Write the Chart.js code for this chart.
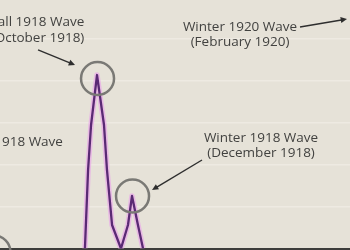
<!DOCTYPE html>
<html>
<head>
<meta charset="utf-8">
<script src="https://cdn.jsdelivr.net/npm/chart.js@4.4.0/dist/chart.umd.min.js"></script>
<style>
  html, body { margin: 0; padding: 0; background: #e6e2d8; }
  #wrap { width: 350px; height: 250px; position: relative; }
</style>
</head>
<body>
<div id="wrap"><canvas id="waves"></canvas></div>
<script>
// Data (months since Jan 1918, deaths per 1,000)
const waveMonths = [8.31, 8.49, 8.66, 9.0, 9.4, 9.57, 9.86, 10.37, 10.77, 11.0, 11.34, 11.63];
const waveValues = [0, 9.35, 14.7, 20.65, 14.7, 9.35, 2.8, 0, 2.8, 6.25, 2.8, 0];

// circled peaks: spring 1918, fall 1918, winter 1918
const peakMonths = [3.11, 9.03, 11.03];
const peakValues = [-0.42, 20.24, 6.25];

const springLabel = ['Spring 1918 Wave'];
const fallLabel = ['Fall 1918 Wave', '(October 1918)'];
const winter18Label = ['Winter 1918 Wave', '(December 1918)'];
const winter20Label = ['Winter 1920 Wave', '(February 1920)'];

const toXY = (xs, ys) => xs.map((x, i) => ({ x: x, y: ys[i] }));

const FONT = '13.5px "Open Sans", sans-serif';
const TEXT_COLOR = '#424240';
const ARROW_COLOR = '#2e2e2e';

function drawArrow(ctx, x1, y1, x2, y2) {
    const ang = Math.atan2(y2 - y1, x2 - x1);
    const head = 7;
    ctx.save();
    ctx.strokeStyle = ARROW_COLOR;
    ctx.fillStyle = ARROW_COLOR;
    ctx.lineWidth = 1.4;
    ctx.beginPath();
    ctx.moveTo(x1, y1);
    ctx.lineTo(x2 - Math.cos(ang) * head * 0.8, y2 - Math.sin(ang) * head * 0.8);
    ctx.stroke();
    ctx.beginPath();
    ctx.moveTo(x2, y2);
    ctx.lineTo(x2 - head * Math.cos(ang - 0.45), y2 - head * Math.sin(ang - 0.45));
    ctx.lineTo(x2 - head * Math.cos(ang + 0.45), y2 - head * Math.sin(ang + 0.45));
    ctx.closePath();
    ctx.fill();
    ctx.restore();
}

function drawLines(ctx, lines, cx, cy, align) {
    ctx.save();
    ctx.font = FONT;
    ctx.fillStyle = TEXT_COLOR;
    ctx.textAlign = align;
    ctx.textBaseline = 'middle';
    lines.forEach((t, i) => ctx.fillText(t, cx, cy + i * 15.5));
    ctx.restore();
}

// Callouts are placed relative to the circled peaks
const calloutPlugin = {
    id: 'callouts',
    afterDatasetsDraw(chart) {
        const ctx = chart.ctx;
        const xs = chart.scales.x, ys = chart.scales.y;
        const pk = peakMonths.map((m, i) => ({ x: xs.getPixelForValue(m), y: ys.getPixelForValue(peakValues[i]) }));
        const area = chart.chartArea;

        // spring 1918
        drawLines(ctx, springLabel, pk[0].x + 69, pk[0].y - 110.3, 'right');

        // fall 1918
        drawLines(ctx, fallLabel, pk[1].x - 60, pk[1].y - 56, 'center');
        drawArrow(ctx, pk[1].x - 59.5, pk[1].y - 28.5, pk[1].x - 22.5, pk[1].y - 13.5);

        // winter 1918
        drawLines(ctx, winter18Label, pk[2].x + 128.5, pk[2].y - 58, 'center');
        drawArrow(ctx, pk[2].x + 69.5, pk[2].y - 36, pk[2].x + 19.5, pk[2].y - 6);

        // winter 1920 (peak lies off to the right)
        drawLines(ctx, winter20Label, area.left + 240, area.top + 27, 'center');
        drawArrow(ctx, area.left + 300, area.top + 27, area.right - 3, area.top + 19);
    }
};

const bgPlugin = {
    id: 'bg',
    beforeDraw(chart) {
        const ctx = chart.ctx;
        ctx.save();
        ctx.fillStyle = '#e6e2d8';
        ctx.fillRect(0, 0, chart.width, chart.height);
        ctx.restore();
    }
};

new Chart(document.getElementById('waves'), {
    type: 'line',
    data: {
        datasets: [
            {
                label: 'Deaths',
                data: toXY(waveMonths, waveValues),
                borderColor: '#5a2a74',
                borderWidth: 2.3,
                pointRadius: 0,
                tension: 0,
                borderJoinStyle: 'round',
                order: 1
            },
            {
                label: 'glow',
                data: toXY(waveMonths, waveValues),
                borderColor: 'rgba(232, 170, 232, 0.7)',
                borderWidth: 5.5,
                pointRadius: 0,
                tension: 0,
                borderJoinStyle: 'round',
                order: 2
            },
            {
                label: 'Peaks',
                data: toXY(peakMonths, peakValues),
                showLine: false,
                pointRadius: 16.5,
                pointBorderWidth: 2.5,
                pointBorderColor: '#7a7975',
                pointBackgroundColor: 'rgba(0,0,0,0)',
                clip: false,
                order: 0
            }
        ]
    },
    options: {
        responsive: true,
        maintainAspectRatio: false,
        animation: false,
        layout: { autoPadding: false, padding: { left: 0, right: 0, top: 0, bottom: 1.5 } },
        plugins: {
            legend: { display: false },
            tooltip: { enabled: false }
        },
        scales: {
            x: {
                type: 'linear',
                min: 3.457,
                max: 23.457,
                grid: { display: false, drawTicks: false },
                ticks: { display: false },
                border: { display: true, color: '#3d3d3b', width: 2 }
            },
            y: {
                min: 0,
                max: 29.58,
                grid: {
                    drawTicks: false,
                    lineWidth: 1.5,
                    color: c => (c.tick && c.tick.value > 0 && c.tick.value % 5 === 0) ? '#eeeae2' : 'rgba(0,0,0,0)'
                },
                ticks: { display: false, stepSize: 5 },
                border: { display: false }
            }
        }
    },
    plugins: [bgPlugin, calloutPlugin]
});
</script>
</body>
</html>
